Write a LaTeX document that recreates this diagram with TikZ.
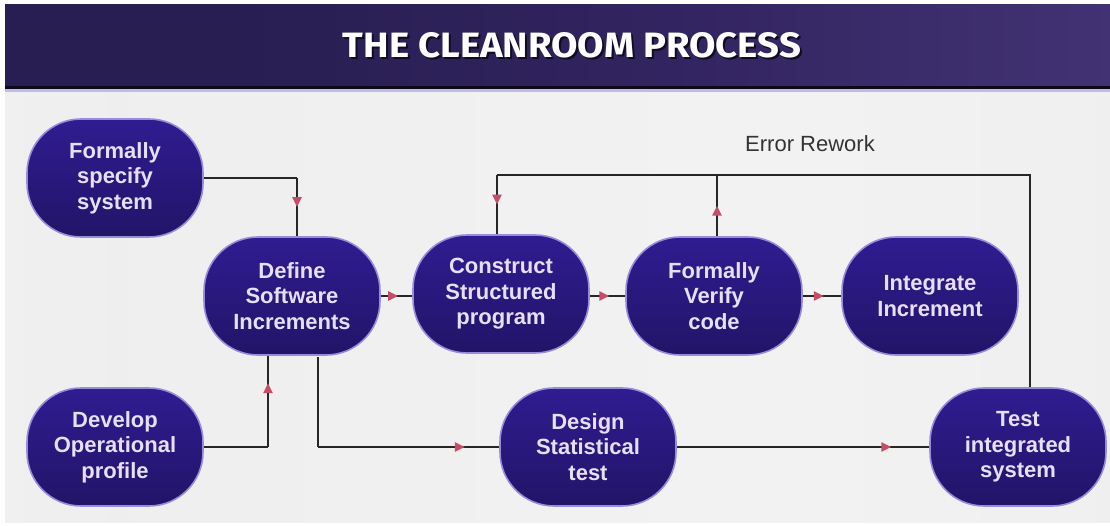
\documentclass[tikz,border=0pt]{standalone}
\usepackage{fontspec}
\setmainfont{Liberation Sans}
\newfontfamily\titlefont{Fira Sans}
\usetikzlibrary{decorations.markings,arrows.meta,shadows}

\definecolor{bandL}{RGB}{40,30,82}
\definecolor{bandM}{RGB}{50,36,96}
\definecolor{bandR}{RGB}{68,52,118}
\definecolor{procTop}{RGB}{48,28,145}
\definecolor{procBot}{RGB}{34,20,104}
\definecolor{procRim}{RGB}{150,140,220}
\definecolor{procText}{RGB}{230,224,246}
\definecolor{tipRed}{RGB}{196,78,104}

\pgfdeclarehorizontalshading{bandshade}{100bp}{
  color(0bp)=(bandL); color(35bp)=(bandL); color(55bp)=(bandM);
  color(78bp)=(bandR); color(100bp)=(bandM)}
\pgfdeclarehorizontalshading{floorshade}{100bp}{
  color(0bp)=(white!93!gray); color(30bp)=(white!87!gray);
  color(60bp)=(white!90!gray); color(100bp)=(white!84!gray)}

\tikzset{
  proc/.style={draw=procRim, line width=1.6pt, rounded corners=54pt,
    top color=procTop, bottom color=procBot,
    minimum width=176pt, minimum height=118pt, inner sep=0pt,
    align=center, text=procText,
    font=\fontsize{22}{25.5}\selectfont\bfseries},
  link/.style={draw=black!85, line width=2.6pt},
  tipat/.style={postaction={decorate, decoration={markings,
    mark=at position #1 with {\arrow[tipRed]{Triangle[length=10pt,width=9pt]}}}}}
}

\begin{document}
\begin{tikzpicture}[x=1pt,y=-1pt]
  \useasboundingbox (0,0) rectangle (1110,526);
  % page and backdrop
  \fill[white] (0,0) rectangle (1110,526);
  \shade[shading=floorshade] (5,90) rectangle (1110,522);
  % title band
  \shade[shading=bandshade] (5,5) rectangle (1110,87);
  \fill[black!70!bandL] (5,86) rectangle (1110,89);
  \fill[procRim!60!white] (5,89) rectangle (1110,92);
  \node[text=black!60!bandL, font=\titlefont\bfseries] at (574,47)
    {\resizebox{458pt}{25pt}{THE CLEANROOM PROCESS}};
  \node[text=white, font=\titlefont\bfseries] (title) at (572,45)
    {\resizebox{458pt}{25pt}{THE CLEANROOM PROCESS}};

  % process steps
  \node[proc] (spec) at (115,178) {Formally\\specify\\system};
  \node[proc] (incr) at (292,296) {Define\\Software\\Increments};
  \node[proc] (cons) at (501,294) {Construct\\Structured\\program};
  \node[proc] (veri) at (714,296) {Formally\\Verify\\code};
  \node[proc] (intg) at (930,296) {Integrate\\Increment};
  \node[proc] (oper) at (115,447) {Develop\\Operational\\profile};
  \node[proc] (stat) at (588,447) {Design\\Statistical\\test};
  \node[proc] (test) at (1018,447) {Test\\integrated\\system};

  % connector bends
  \coordinate (specBend) at (297,178);
  \coordinate (operBend) at (268,447);
  \coordinate (incrOut) at (318,357);
  \coordinate (statBend) at (318,447);
  \coordinate (loopR) at (1030,175);
  \coordinate (loopV) at (717,175);
  \coordinate (loopL) at (497,175);

  \draw[link] (spec.east) -- (specBend);
  \draw[link, tipat=0.5] (specBend) -- (specBend |- incr.north);
  \draw[link] (oper.east) -- (operBend);
  \draw[link, tipat=0.7] (operBend) -- (operBend |- incr.south);
  \draw[link] (incrOut) -- (statBend);
  \draw[link, tipat=0.81] (statBend) -- (stat.west);
  \draw[link, tipat=0.55] (incr.east) -- (incr.east -| cons.west);
  \draw[link, tipat=0.55] (incr.east -| cons.east) -- (veri.west);
  \draw[link, tipat=0.55] (veri.east) -- (intg.west);
  \draw[link, tipat=0.85] (stat.east) -- (test.west);

  % error rework loop
  \draw[link] (loopR |- test.north) -- (loopR) -- (loopL);
  \draw[link, tipat=0.5] (loopL) -- (loopL |- cons.north);
  \draw[link, tipat=0.5] (loopV |- veri.north) -- (loopV);
  \node[font=\fontsize{22}{25}\selectfont, text=black!80] (rework) at (810,144) {Error Rework};
\end{tikzpicture}
\end{document}
